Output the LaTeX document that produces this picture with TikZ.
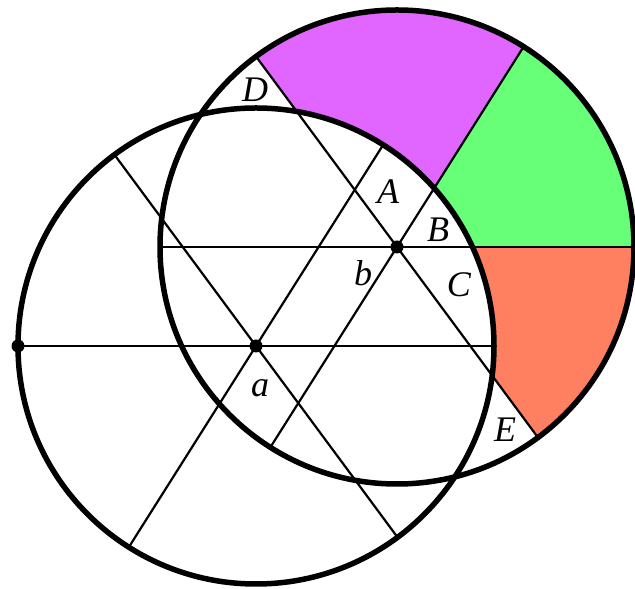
\documentclass[tikz,border=0pt]{standalone}
\usepackage{fontspec}
\setmainfont{Liberation Serif}
\usetikzlibrary{calc}
\definecolor{lilac}{HTML}{E066FF}
\definecolor{mint}{HTML}{66FF77}
\definecolor{salmon}{HTML}{FF8060}
\tikzset{rim/.style={line width=5.5pt},chord/.style={line width=2.2pt},lbl/.style={font=\fontsize{36}{40}\selectfont\itshape,inner sep=0pt},dot/.style={fill,circle,inner sep=0pt,minimum size=13pt}}

\begin{document}
\begin{tikzpicture}[x=1pt,y=1pt]
\useasboundingbox (0,0) rectangle (635,589);
\coordinate (a) at (256,243); \coordinate (b) at (397,342);
% sectors of circle b lying outside circle a
\foreach \s/\e/\c in {57.7/126.5/lilac,0/57.7/mint,-53.5/0/salmon}{\begin{scope}\clip (b) -- ++(\s:237) arc[start angle=\s,end angle=\e,radius=237] -- cycle;
\fill[\c] (b) circle (237);\fill[white] (a) circle (238);\end{scope}}
\foreach \p/\r in {a/238,b/237}{\foreach \t in {0,57.7,126.5}{\draw[chord] ($(\p)+(\t:\r)$) -- ($(\p)+(\t+180:\r)$);}}
\draw[rim] (a) circle (238);
\draw[rim] (b) circle (237);
\coordinate (w) at ($(a)+(180:238)$);
\node[dot] (da) at (a) {};\node[dot] (db) at (b) {};\node[dot] (dw) at (w) {};
\node[lbl] (lA) at (388,397) {A};
\node[lbl] (lB) at (438,359) {B};
\node[lbl] (lC) at (459,304) {C};
\node[lbl] (lD) at (255,499) {D};
\node[lbl] (lE) at (505,159) {E};
\node[lbl] (la) at (260,201) {a};
\node[lbl] (lb) at (363,316) {b};
\end{tikzpicture}
\end{document}
